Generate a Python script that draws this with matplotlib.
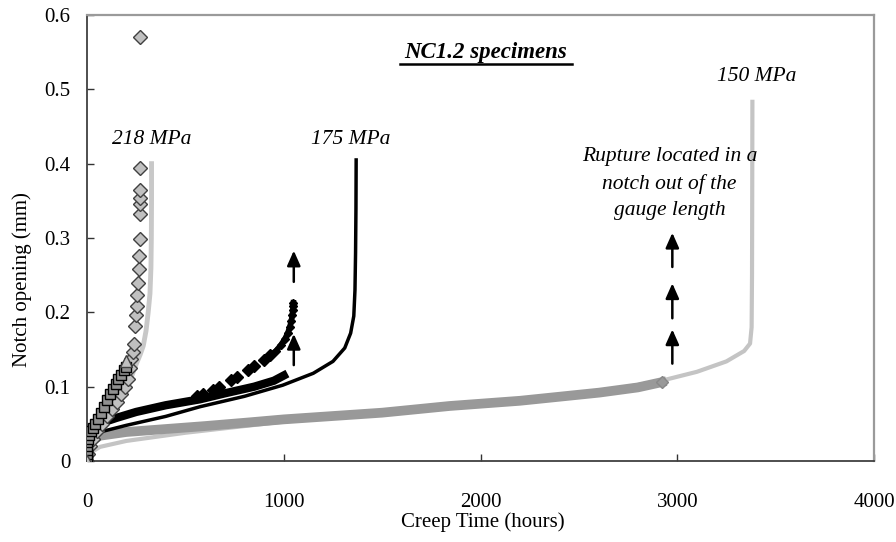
import matplotlib
matplotlib.use('Agg')
import matplotlib.pyplot as plt

plt.rcParams['font.family'] = ['Liberation Serif', 'DejaVu Serif']

#%% Data

# 218 MPa, grey diamonds
d218_x = [0, 5, 15, 30, 50, 75, 100, 125, 150, 175, 195, 210, 218, 225, 232, 238, 243, 249,
          253, 256, 260, 263, 265, 267, 268, 269, 269, 269, 269]
d218_y = [0, 0.01, 0.02, 0.03, 0.04, 0.05, 0.06, 0.07, 0.08, 0.09, 0.1, 0.11, 0.125, 0.137, 0.146,
          0.158, 0.181, 0.197, 0.209, 0.223, 0.239, 0.258, 0.276, 0.298, 0.332, 0.346, 0.354, 0.364, 0.394]
d218_top_x = [269]
d218_top_y = [0.571]

# 218 MPa, dark squares + triangles (second specimen)
s218_x = [0, 0, 0, 0, 0, 2, 5, 10, 18, 28, 40, 55, 70, 85, 100, 115, 130, 145, 160, 175, 190, 200]
s218_y = [0, 0.005, 0.01, 0.015, 0.02, 0.025, 0.03, 0.035, 0.04, 0.045, 0.05, 0.057, 0.065, 0.073,
          0.082, 0.09, 0.097, 0.104, 0.11, 0.116, 0.122, 0.126]
t218_x = [0, 200]
t218_y = [0, 0.135]

# 218 MPa, light grey line
l218_x = [0, 10, 30, 60, 100, 150, 200, 245, 270, 286, 300, 311, 320, 325, 327, 328, 328]
l218_y = [0, 0.015, 0.025, 0.035, 0.05, 0.07, 0.095, 0.127, 0.143, 0.155, 0.175, 0.2, 0.225, 0.26,
          0.3, 0.35, 0.40]

# 175 MPa, small black diamonds (stopped at ~1000 h)
d175_x = [0, 3, 10, 30, 70, 150, 250, 400, 574, 700, 850, 950, 1000]
d175_y = [0, 0.025, 0.035, 0.043, 0.051, 0.058, 0.066, 0.075, 0.083, 0.091, 0.1, 0.108, 0.115]

# 175 MPa, large black diamonds (spaced part, then dense end)
b175_x = [560, 590, 640, 670, 730, 760, 820, 850, 900, 930]
b175_y = [0.087, 0.09, 0.096, 0.1, 0.109, 0.113, 0.123, 0.128, 0.136, 0.142]
e175_x = [930, 960, 985, 1005, 1020, 1030, 1038, 1043, 1046, 1048, 1049]
e175_y = [0.142, 0.148, 0.156, 0.164, 0.172, 0.18, 0.188, 0.196, 0.203, 0.209, 0.213]

# 175 MPa, black line
l175_x = [0, 3, 15, 66, 200, 400, 574, 800, 995, 1150, 1250, 1310, 1340, 1356, 1362, 1365, 1367, 1368]
l175_y = [0, 0.015, 0.028, 0.039, 0.048, 0.06, 0.073, 0.087, 0.102, 0.118, 0.134, 0.152, 0.172,
          0.195, 0.23, 0.28, 0.34, 0.405]

# 150 MPa, grey diamonds (thick band)
d150_x = [0, 5, 20, 66, 200, 400, 600, 827, 1000, 1500, 1843, 2200, 2604, 2800, 2920]
d150_y = [0, 0.018, 0.027, 0.034, 0.039, 0.043, 0.047, 0.052, 0.056, 0.065, 0.074, 0.081, 0.092, 0.099, 0.106]

# 150 MPa, light grey line
l150_x = [0, 10, 66, 200, 500, 1000, 1500, 2000, 2500, 2920, 3100, 3250, 3340, 3370, 3378, 3380, 3381, 3382]
l150_y = [0, 0.01, 0.019, 0.027, 0.038, 0.053, 0.064, 0.075, 0.088, 0.108, 0.12, 0.134, 0.148, 0.158,
          0.18, 0.25, 0.35, 0.486]

# arrows (x, y_tail, y_tip)
arrow_x = [1051, 1051, 2975, 2975, 2975]
arrow_y0 = [0.129, 0.241, 0.131, 0.192, 0.261]
arrow_y1 = [0.171, 0.283, 0.177, 0.239, 0.307]

#%% Plot

fig = plt.figure(figsize=(8.96, 5.42), dpi=100)
ax = fig.add_axes([87/896, 1-461/542, 787/896, 446/542])

ax.plot(l150_x, l150_y, color='#c4c4c4', lw=3, solid_capstyle='butt', zorder=2)
ax.plot(d150_x, d150_y, color='#999999', lw=7, zorder=3)
ax.plot(d150_x[-1:], d150_y[-1:], 'D', ms=6, mfc='#999999', mec='#888888', zorder=3)

ax.plot(l218_x, l218_y, color='#c8c8c8', lw=3.5, zorder=2)

ax.plot(l175_x, l175_y, color='black', lw=2.5, zorder=4)
ax.plot(d175_x, d175_y, color='black', lw=6, zorder=4)
ax.plot(b175_x, b175_y, 'D', ms=6.5, color='black', zorder=4)
ax.plot(e175_x, e175_y, color='black', lw=4, marker='D', ms=4, zorder=4)

ax.plot(d218_x, d218_y, 'D', ms=7.5, mfc='#c0c0c0', mec='#404040', mew=1, zorder=5)
ax.plot(d218_top_x, d218_top_y, 'D', ms=7.5, mfc='#c0c0c0', mec='#404040', mew=1, zorder=5)
ax.plot(s218_x, s218_y, 's', ms=6.5, mfc='#909090', mec='black', mew=1, zorder=6)
ax.plot(t218_x, t218_y, '^', ms=8, mfc='#c0c0c0', mec='#404040', mew=1, zorder=6)

for x, y0, y1 in zip(arrow_x, arrow_y0, arrow_y1):
    ax.annotate('', xy=(x, y1), xytext=(x, y0),
                arrowprops=dict(arrowstyle='-|>,head_length=0.9,head_width=0.4', color='black',
                                lw=1.8, shrinkA=0, shrinkB=0))

fs = 15.5
ax.text(328, 0.432, '218 MPa', style='italic', fontsize=fs, ha='center', va='center')
ax.text(1340, 0.432, '175 MPa', style='italic', fontsize=fs, ha='center', va='center')
ax.text(3406, 0.517, '150 MPa', style='italic', fontsize=fs, ha='center', va='center')
ax.text(2960, 0.422, 'Rupture located in a\nnotch out of the\ngauge length', style='italic',
        fontsize=fs, ha='center', va='top', linespacing=1.5)

ax.text(2025, 0.549, 'NC1.2 specimens', style='italic', weight='bold', fontsize=16.5,
        ha='center', va='center')
ax.plot([0.398, 0.616], [0.891, 0.891], color='black', lw=1.8, transform=ax.transAxes,
        clip_on=False)

ax.set_xlim(0, 4000)
ax.set_ylim(0, 0.6)
ax.set_xticks([0, 1000, 2000, 3000, 4000])
ax.set_yticks([0, 0.1, 0.2, 0.3, 0.4, 0.5, 0.6])
ax.set_yticklabels(['0', '0.1', '0.2', '0.3', '0.4', '0.5', '0.6'])
ax.tick_params(axis='both', direction='in', length=5, width=1, labelsize=15, color='#333333')
ax.tick_params(axis='x', pad=23, top=False)
ax.tick_params(axis='y', pad=12, right=False)

for s in ['left', 'bottom']:
    ax.spines[s].set_color('#404040')
    ax.spines[s].set_linewidth(1.3)
for s in ['top', 'right']:
    ax.spines[s].set_color('#9a9a9a')
    ax.spines[s].set_linewidth(1.6)

ax.set_xlabel('Creep Time (hours)', fontsize=15)
ax.xaxis.set_label_coords(0.503, -0.115)
ax.set_ylabel('Notch opening (mm)', fontsize=15)
ax.yaxis.set_label_coords(-0.07, 0.406)

fig.savefig('out.png', dpi=100)
